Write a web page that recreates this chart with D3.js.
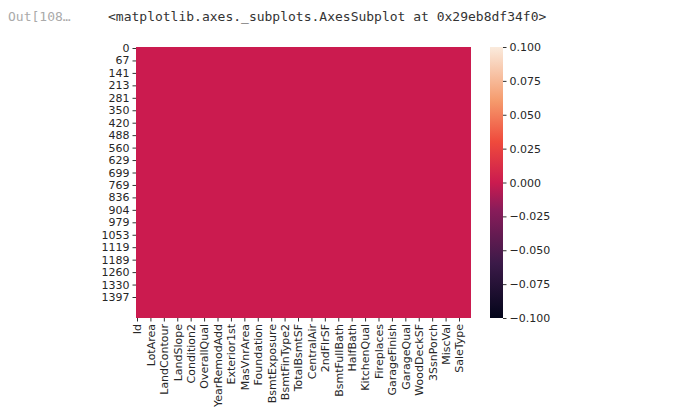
<!DOCTYPE html>
<html><head><meta charset="utf-8">
<script src="https://cdn.jsdelivr.net/npm/d3@7"></script>
<style>body{margin:0;background:#fff}text{font-family:"DejaVu Sans",sans-serif}</style>
</head><body><svg id="c" width="680" height="411"></svg>
<script>
// tick labels
const rowLabels = ["0","67","141","213","281","350","420","488","560","629","699","769","836","904","979","1053","1119","1189","1260","1330","1397"];
const colLabels = ["Id","LotArea","LandContour","LandSlope","Condition2","OverallQual","YearRemodAdd","Exterior1st","MasVnrArea","Foundation","BsmtExposure","BsmtFinType2","TotalBsmtSF","CentralAir","2ndFlrSF","BsmtFullBath","HalfBath","KitchenQual","Fireplaces","GarageFinish","GarageQual","WoodDeckSF","3SsnPorch","MiscVal","SaleType"];
const cbTicks = [0.1,0.075,0.05,0.025,0,-0.025,-0.05,-0.075,-0.1];
// every cell is zero (no missing values)
const cellValue = 0;

const svg = d3.select("#c");
svg.append("text").attr("x",8).attr("y",21).attr("fill","#aaa")
  .style("font-family","DejaVu Sans Mono").style("font-size","13px").text("Out[108…");
svg.append("text").attr("x",108).attr("y",21).attr("fill","#333")
  .style("font-family","DejaVu Sans Mono").style("font-size","13px").text("<matplotlib.axes._subplots.AxesSubplot at 0x29eb8df34f0>");

const stops = [[0,"#03051a"],[0.2,"#3b1a48"],[0.4,"#8a1c5a"],[0.5,"#cb1b4f"],[0.65,"#ef4a3c"],[0.8,"#f59a6c"],[1,"#faebdd"]];
const color = d3.scaleLinear().domain(stops.map(s=>-0.1+0.2*s[0])).range(stops.map(s=>s[1]));

const pLeft=136, pRight=471, pTop=47, pBottom=318;
svg.append("rect").attr("x",pLeft).attr("y",pTop).attr("width",pRight-pLeft).attr("height",pBottom-pTop).attr("fill",color(cellValue));

const y = d3.scaleLinear().domain([0,rowLabels.length-1]).range([pTop+1,297]);
const x = d3.scaleLinear().domain([0,colLabels.length-1]).range([137,459]);

const ya = svg.append("g").attr("transform",`translate(${pLeft},0)`)
  .call(d3.axisLeft(y).tickValues(d3.range(rowLabels.length)).tickFormat(i=>rowLabels[i]).tickSize(3.5));
const xa = svg.append("g").attr("transform",`translate(0,${pBottom})`)
  .call(d3.axisBottom(x).tickValues(d3.range(colLabels.length)).tickFormat(i=>colLabels[i]).tickSize(3.5));
[ya,xa].forEach(a=>{a.select(".domain").remove();a.selectAll("line").attr("stroke","#333");
  a.selectAll("text").attr("fill","#262626").style("font-size","11px");});
xa.selectAll("text").attr("transform","rotate(-90)").attr("text-anchor","end").attr("x",-6).attr("y",0).attr("dy","0.35em");

// colorbar
const grad = svg.append("defs").append("linearGradient").attr("id","g").attr("x1",0).attr("y1",1).attr("x2",0).attr("y2",0);
stops.forEach(s=>grad.append("stop").attr("offset",s[0]).attr("stop-color",s[1]));
svg.append("rect").attr("x",490).attr("y",pTop).attr("width",13).attr("height",pBottom-pTop).attr("fill","url(#g)");
const cy = d3.scaleLinear().domain([-0.1,0.1]).range([pBottom,pTop]);
const ca = svg.append("g").attr("transform","translate(503,0)")
  .call(d3.axisRight(cy).tickValues(cbTicks).tickFormat(d=>d3.format(".3f")(d).replace("-","\u2212")).tickSize(3.5));
ca.select(".domain").remove();
ca.selectAll("line").attr("stroke","#333");
ca.selectAll("text").attr("fill","#262626").style("font-size","11px");
</script></body></html>
